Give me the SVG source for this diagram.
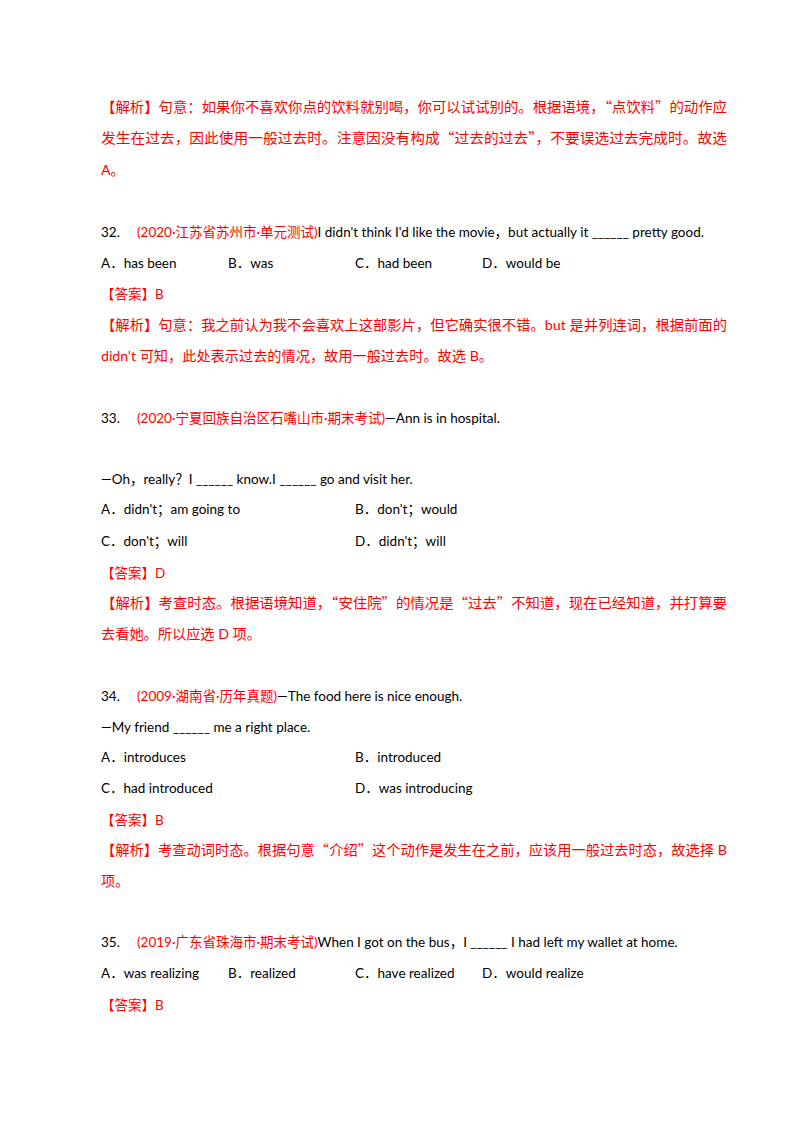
<svg xmlns="http://www.w3.org/2000/svg" width="800" height="1132" viewBox="0 0 800 1132">
<style>
text{font-family:Lato,"Noto Sans CJK SC",sans-serif;font-size:13.5px;fill:#000}
.r{fill:#ff0000}
.j{font-size:14.2px}
.c{font-family:"Noto Sans CJK SC",sans-serif}
</style>
<rect width="800" height="1132" fill="#fff"/>
<text class="r j" x="101" y="112" textLength="626" lengthAdjust="spacingAndGlyphs">【解析】句意：如果你不喜欢你点的饮料就别喝，你可以试试别的。根据语境，<tspan class="c">“</tspan>点饮料<tspan class="c">”</tspan>的动作应</text>
<text class="r j" x="101" y="143" textLength="626" lengthAdjust="spacingAndGlyphs">发生在过去，因此使用一般过去时。注意因没有构成<tspan class="c">“</tspan>过去的过去<tspan class="c">”</tspan>，不要误选过去完成时。故选</text>
<text class="r j" x="101" y="175">A。</text>

<text x="101" y="237">32.<tspan class="r" x="137">(2020·江苏省苏州市·单元测试)</tspan><tspan>I didn't think I'd like the movie，but actually it ______ pretty good.</tspan></text>
<text x="101" y="268">A．has been</text><text x="228" y="268">B．was</text><text x="355" y="268">C．had been</text><text x="482" y="268">D．would be</text>
<text class="r" x="101" y="299">【答案】B</text>
<text class="r j" x="101" y="330" textLength="626" lengthAdjust="spacingAndGlyphs">【解析】句意：我之前认为我不会喜欢上这部影片，但它确实很不错。but 是并列连词，根据前面的</text>
<text class="r j" x="101" y="361">didn't 可知，此处表示过去的情况，故用一般过去时。故选 B。</text>

<text x="101" y="423">33.<tspan class="r" x="137">(2020·宁夏回族自治区石嘴山市·期末考试)</tspan><tspan>—Ann is in hospital.</tspan></text>
<text x="101" y="484">—Oh，really？I ______ know.I ______ go and visit her.</text>
<text x="101" y="514">A．didn't；am going to</text><text x="355" y="514">B．don't；would</text>
<text x="101" y="546">C．don't；will</text><text x="355" y="546">D．didn't；will</text>
<text class="r" x="101" y="578">【答案】D</text>
<text class="r j" x="101" y="608" textLength="626" lengthAdjust="spacingAndGlyphs">【解析】考查时态。根据语境知道，<tspan class="c">“</tspan>安住院<tspan class="c">”</tspan>的情况是<tspan class="c">“</tspan>过去<tspan class="c">”</tspan>不知道，现在已经知道，并打算要</text>
<text class="r j" x="101" y="639">去看她。所以应选 D 项。</text>

<text x="101" y="701">34.<tspan class="r" x="137">(2009·湖南省·历年真题)</tspan><tspan>—The food here is nice enough.</tspan></text>
<text x="101" y="732">—My friend ______ me a right place.</text>
<text x="101" y="762">A．introduces</text><text x="355" y="762">B．introduced</text>
<text x="101" y="793">C．had introduced</text><text x="355" y="793">D．was introducing</text>
<text class="r" x="101" y="825">【答案】B</text>
<text class="r j" x="101" y="855" textLength="626" lengthAdjust="spacingAndGlyphs">【解析】考查动词时态。根据句意<tspan class="c">“</tspan>介绍<tspan class="c">”</tspan>这个动作是发生在之前，应该用一般过去时态，故选择 B</text>
<text class="r j" x="101" y="886">项。</text>

<text x="101" y="947">35.<tspan class="r" x="137">(2019·广东省珠海市·期末考试)</tspan><tspan>When I got on the bus，I ______ I had left my wallet at home.</tspan></text>
<text x="101" y="978">A．was realizing</text><text x="228" y="978">B．realized</text><text x="355" y="978">C．have realized</text><text x="482" y="978">D．would realize</text>
<text class="r" x="101" y="1010">【答案】B</text>
</svg>
